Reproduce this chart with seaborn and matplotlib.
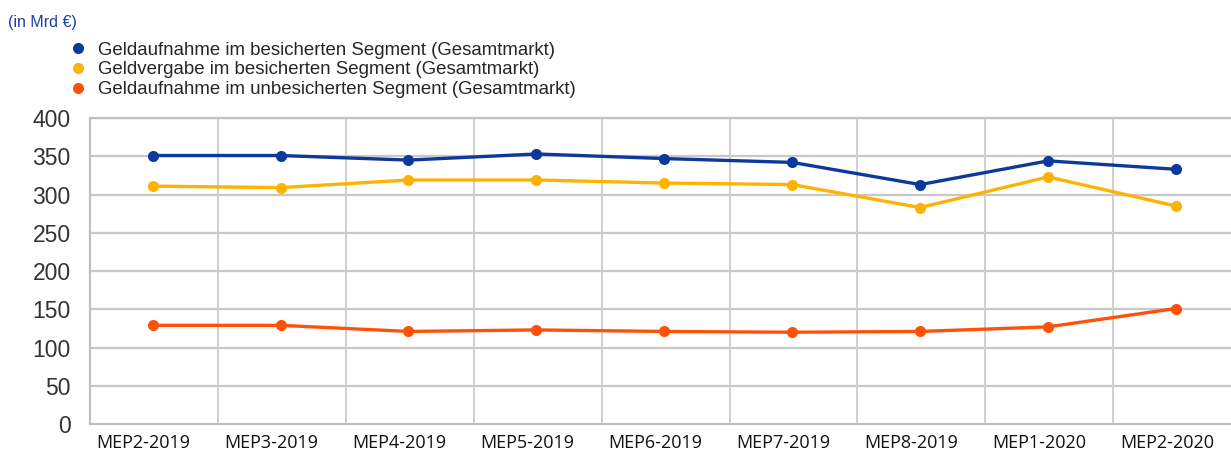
import numpy as np
import pandas as pd
import matplotlib
matplotlib.use("Agg")
import matplotlib.pyplot as plt
import matplotlib.transforms as mtransforms
from matplotlib.lines import Line2D
import seaborn as sns

perioden = ["MEP2-2019", "MEP3-2019", "MEP4-2019", "MEP5-2019", "MEP6-2019",
            "MEP7-2019", "MEP8-2019", "MEP1-2020", "MEP2-2020"]
aufnahme_besichert = [351, 351, 345, 353, 347, 342, 313, 344, 333]
vergabe_besichert = [311, 309, 319, 319, 315, 313, 283, 323, 285]
aufnahme_unbesichert = [129, 129, 121, 123, 121, 120, 121, 127, 151]

namen = ["Geldaufnahme im besicherten Segment (Gesamtmarkt)",
         "Geldvergabe im besicherten Segment (Gesamtmarkt)",
         "Geldaufnahme im unbesicherten Segment (Gesamtmarkt)"]
farben = ["#0d3a9a", "#ffb300", "#ff5208"]

df = pd.DataFrame({
    "Periode": perioden * 3,
    "pos": list(range(len(perioden))) * 3,
    "Wert": aufnahme_besichert + vergabe_besichert + aufnahme_unbesichert,
    "Serie": [namen[0]] * 9 + [namen[1]] * 9 + [namen[2]] * 9,
})

sns.set_style("white")
plt.rcParams["font.family"] = ["Liberation Sans", "DejaVu Sans"]

fig = plt.figure(figsize=(12.31, 4.55), dpi=100)
ax = fig.add_axes([0.0731, 0.0681, 0.9269, 0.6725])

sns.lineplot(data=df, x="pos", y="Wert", hue="Serie", palette=farben,
             hue_order=namen, marker="o", markersize=8, markeredgewidth=0,
             linewidth=2.4, legend=False, ax=ax)

ax.set_xlim(-0.49, 8.43)
ax.set_ylim(0, 400)
ax.set_yticks(range(0, 401, 50))
ax.set_xticks(range(len(perioden)))
ax.set_xticklabels(perioden, fontsize=13, family=["Open Sans", "DejaVu Sans"])
ax.tick_params(axis="y", labelsize=16.5, colors="#333333", length=0, pad=14)
ax.tick_params(axis="x", colors="#111111", length=0, pad=7)
ax.set_xlabel("")
ax.set_ylabel("")

# x-Beschriftungen leicht nach links versetzt wie im Original
verschiebung = mtransforms.ScaledTranslation(-9 / 100, 0, fig.dpi_scale_trans)
for lab in ax.get_xticklabels():
    lab.set_transform(lab.get_transform() + verschiebung)

# Gitterlinien: horizontal bei den Werten, vertikal zwischen den Kategorien
for y in range(50, 401, 50):
    ax.axhline(y, color="#c8c8c8", linewidth=1.6, zorder=0)
for x in np.arange(-0.49, 8.6, 1.0):
    ax.axvline(x, color="#cfcfcf", linewidth=1.4, zorder=0)

for s in ["left", "bottom", "top"]:
    ax.spines[s].set_color("#c0c0c0")
    ax.spines[s].set_linewidth(1.6)
ax.spines["right"].set_visible(False)

fig.text(0.0065, 0.94, "(in Mrd €)", color="#1a3fa0", fontsize=11.5)

handles = [Line2D([], [], linestyle="none", marker="o", markersize=8,
                  markerfacecolor=c, markeredgewidth=0) for c in farben]
fig.legend(handles, namen, loc="upper left", bbox_to_anchor=(0.048, 0.925),
           frameon=False, fontsize=13.4, handletextpad=0.5, labelspacing=0.15,
           borderaxespad=0, handlelength=1.2)

fig.savefig("out.png", dpi=100)
